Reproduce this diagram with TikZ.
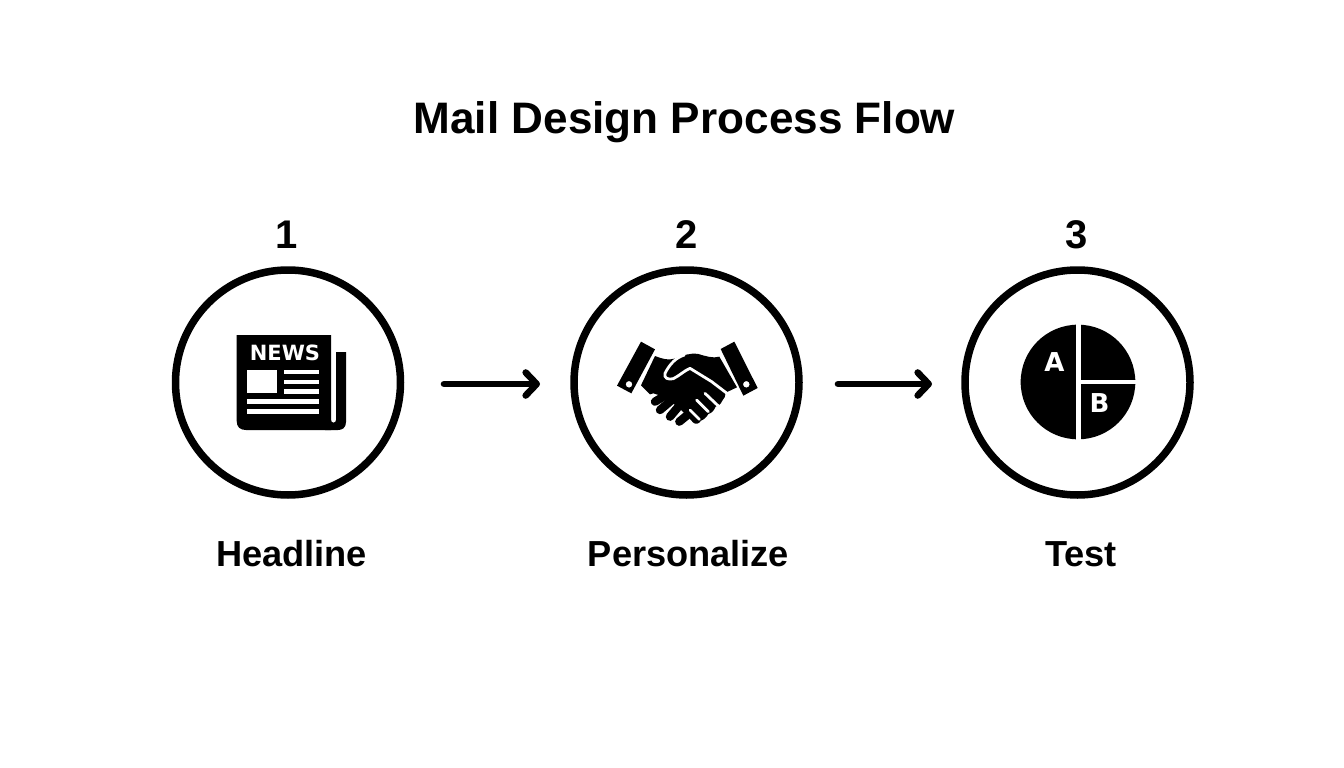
\documentclass[tikz,border=0pt]{standalone}
\usepackage{fontspec}
\setmainfont{Liberation Sans}
\newfontfamily\iconfont{DejaVu Sans}
\usetikzlibrary{arrows.meta}
\tikzset{
  ring/.style={circle,draw=black,line width=7.5pt,fill=white,minimum size=225pt,inner sep=0pt},
  titletxt/.style={anchor=base,inner sep=0pt,font=\fontsize{44.1}{50}\bfseries\selectfont},
  numtxt/.style={anchor=base,inner sep=0pt,font=\fontsize{40}{46}\bfseries\selectfont},
  labeltxt/.style={anchor=base,inner sep=0pt,font=\fontsize{36.2}{42}\bfseries\selectfont},
  iconwhite/.style={anchor=base,inner sep=0pt,text=white},
  flow/.style={line width=6.6pt,line cap=round,-{Straight Barb[round,length=11pt,width=23pt,line width=6.6pt]}},
  wgap/.style={draw=white,line width=2.8pt,line cap=round,line join=round},
  finger/.style={draw=black,line width=8.4pt,line cap=round},
  fingerhalo/.style={draw=white,line width=11pt,line cap=round}
}
\begin{document}
\begin{tikzpicture}[x=1pt,y=-1pt]
\useasboundingbox (0,0) rectangle (1344,768);
\fill[white] (0,0) rectangle (1344,768);
\node[titletxt] (title) at (684.5,133) {Mail Design Process Flow};
\node[numtxt] (n1) at (287,248.5) {1};
\node[numtxt] (n2) at (687,248.5) {2};
\node[numtxt] (n3) at (1077,248.5) {3};
\node[ring] (c1) at (288,382.5) {};
\node[ring] (c2) at (686.5,382.5) {};
\node[ring] (c3) at (1077.5,382.5) {};
\node[labeltxt] (l1) at (291.5,566) {Headline};
\node[labeltxt] (l2) at (688.5,566) {Personalize};
\node[labeltxt] (l3) at (1081,566) {Test};
\coordinate (a1s) at (444,384);
\coordinate (a1e) at (540,384);
\coordinate (a2s) at (838,384);
\coordinate (a2e) at (932,384);
\draw[flow] (a1s) -- (a1e);
\draw[flow] (a2s) -- (a2e);
% newspaper
\fill[black] (236.7,335) -- (331,335) -- (331,430) -- (246,430) .. controls (240,430) and (236.7,427) .. (236.7,421) -- cycle;
\fill[black] (336,352) -- (346,352) -- (346,422) .. controls (346,428) and (342,430) .. (338,430) -- (325,430) -- (325,420) -- (331,420) .. controls (331,423.5) and (336,423.5) .. (336,420) -- cycle;
\fill[white] (247.3,370) rectangle (277.3,392.7);
\foreach \yy in {370,380,389.4}{\fill[white] (284,\yy) rectangle (319.3,\yy+4.3);}
\foreach \yy in {399.3,409.2}{\fill[white] (247.3,\yy) rectangle (319.3,\yy+4.4);}
\node[iconwhite,font=\iconfont\fontsize{21}{24}\bfseries\selectfont] (news) at (285,360) {NEWS};
% handshake
\begin{scope}[shift={(605,330)},x=0.3333pt,y=-0.3333pt]
\fill[black,even odd rule] (108,35) -- (150,58) -- (79,190) -- (36,167) -- cycle (72,163) circle[radius=10];
\fill[black,even odd rule] (388,35) -- (347,57) -- (415,197) -- (458,174) -- cycle (424,163) circle[radius=10];
\foreach \ax/\ay/\bx/\by in {175/200/150/215,198/212/165/240,222/228/195/260,245/257/223/275}{
  \draw[fingerhalo] (\ax,\ay) -- (\bx,\by);
}
\fill[black] (150,78) .. controls (170,86) and (190,92) .. (208,86) .. controls (235,76) and (255,68) .. (280,72) .. controls (300,78) and (325,86) .. (343,80) -- (396,172) -- (362,188) .. controls (362,198) and (358,205) .. (352,212) .. controls (348,222) and (340,228) .. (332,230) .. controls (328,240) and (320,250) .. (310,252) .. controls (305,262) and (295,270) .. (288,272) .. controls (282,282) and (272,284) .. (265,278) -- (250,262) -- (220,232) -- (195,214) -- (170,198) -- (145,190) -- (135,193) -- (108,166) -- cycle;
\foreach \ax/\ay/\bx/\by in {175/200/150/215,198/212/165/240,222/228/195/260,245/257/223/275}{
  \draw[finger] (\ax,\ay) -- (\bx,\by);
}
\draw[wgap] (238,75) .. controls (215,82) and (195,100) .. (180,130) .. controls (176,145) and (190,150) .. (205,146) .. controls (222,138) and (238,122) .. (255,115) -- (320,155) -- (375,197);
\draw[wgap] (300,190) -- (340,228);
\draw[wgap] (275,210) -- (310,245);
\draw[wgap] (255,240) -- (283,268);
\end{scope}
% pie
\begin{scope}[shift={(1010,315)},x=0.3333pt,y=-0.3333pt]
\fill[black] (204,201) circle[radius=172];
\fill[white] (197,20) rectangle (212,385);
\fill[white] (205,194) rectangle (390,208);
\end{scope}
\node[iconwhite,font=\iconfont\fontsize{26}{28}\bfseries\selectfont] (pa) at (1054.3,371.7) {A};
\node[iconwhite,font=\iconfont\fontsize{26}{28}\bfseries\selectfont] (pb) at (1099.5,412.3) {B};
\end{tikzpicture}
\end{document}
